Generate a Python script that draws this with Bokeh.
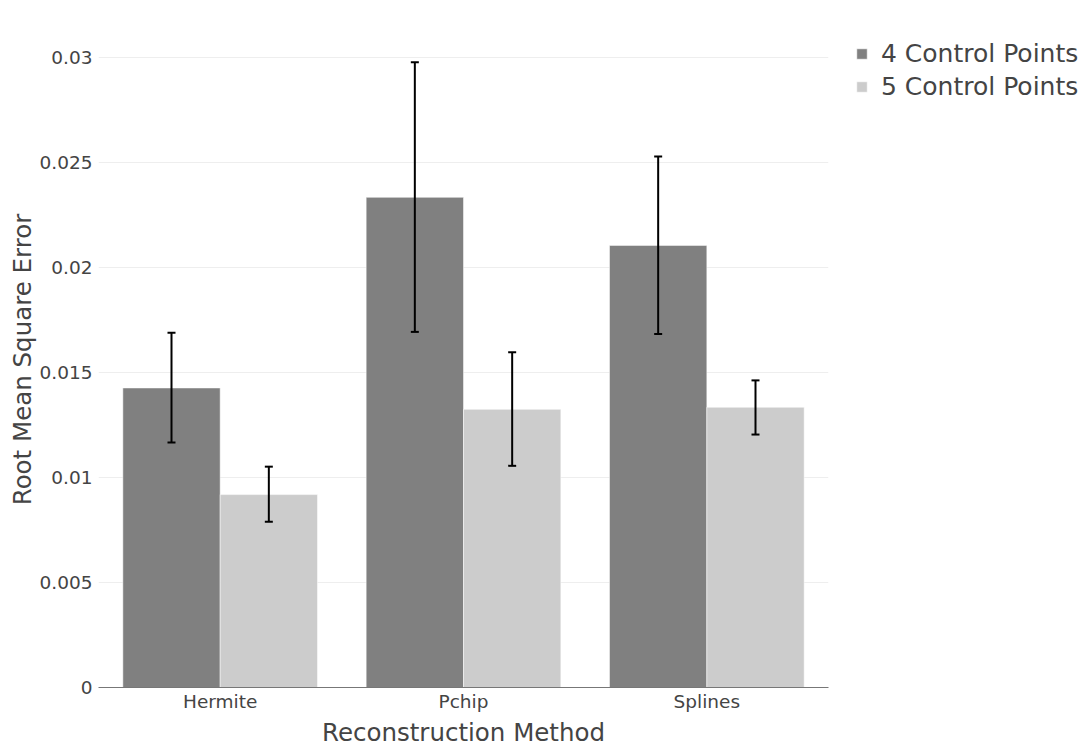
from bokeh.plotting import figure
from bokeh.models import (ColumnDataSource, FactorRange, Range1d, Whisker, TeeHead,
                          Legend, LegendItem, FixedTicker, CustomJSTickFormatter)
from bokeh.transform import dodge
from bokeh.embed import file_html
from bokeh.resources import INLINE

methods = ["Hermite", "Pchip", "Splines"]
series_names = ["4 Control Points", "5 Control Points"]
rmse_4 = [0.01427, 0.02335, 0.02106]
upper_4 = [0.01690, 0.02978, 0.02530]
lower_4 = [0.01167, 0.01694, 0.01684]
rmse_5 = [0.00919, 0.01325, 0.01335]
upper_5 = [0.01052, 0.01597, 0.01463]
lower_5 = [0.00789, 0.01056, 0.01205]
y_ticks = [0, 0.005, 0.01, 0.015, 0.02, 0.025, 0.03]

FONT = "DejaVu Sans"
TXT = "#444444"

src4 = ColumnDataSource(dict(m=methods, v=rmse_4, up=upper_4, lo=lower_4))
src5 = ColumnDataSource(dict(m=methods, v=rmse_5, up=upper_5, lo=lower_5))

p = figure(frame_width=730, frame_height=656, x_range=FactorRange(*methods, range_padding=0),
           y_range=Range1d(0, 0.03125), output_backend="svg", toolbar_location=None,
           min_border_left=80, min_border_right=0, min_border_top=31, min_border_bottom=0,
           margin=(0, 0, 0, 4))
p.outline_line_color = None

r4 = p.vbar(x=dodge("m", -0.2, range=p.x_range), top="v", width=0.4, source=src4,
            fill_color="#808080", line_color="#ffffff", line_width=0.5)
r5 = p.vbar(x=dodge("m", 0.2, range=p.x_range), top="v", width=0.4, source=src5,
            fill_color="#cccccc", line_color="#ffffff", line_width=0.5)

for src, off in ((src4, -0.2), (src5, 0.2)):
    w = Whisker(source=src, base=dodge("m", off, range=p.x_range), upper="up", lower="lo",
                line_color="black", line_width=2, level="annotation",
                upper_head=TeeHead(size=8, line_width=2, line_color="black"),
                lower_head=TeeHead(size=8, line_width=2, line_color="black"))
    p.add_layout(w)

p.xgrid.grid_line_color = None
p.ygrid.grid_line_color = "#eeeeee"
p.ygrid.grid_line_width = 1

p.yaxis.ticker = FixedTicker(ticks=y_ticks)
p.yaxis.formatter = CustomJSTickFormatter(code="return String(+tick.toFixed(4));")
p.yaxis.axis_line_color = None
p.yaxis.major_tick_line_color = None
p.yaxis.minor_tick_line_color = None
p.yaxis.major_label_standoff = 0
p.yaxis.axis_label = "Root Mean Square Error"
p.yaxis.axis_label_standoff = 0

p.xaxis.axis_line_color = "#777777"
p.xaxis.major_tick_line_color = None
p.xaxis.minor_tick_line_color = None
p.xaxis.major_label_standoff = -3
p.xaxis.axis_label = "Reconstruction Method"
p.xaxis.axis_label_standoff = 3

for ax in (p.xaxis, p.yaxis):
    ax.major_label_text_font = FONT
    ax.major_label_text_font_size = "18.5px"
    ax.major_label_text_color = TXT
    ax.axis_label_text_font = FONT
    ax.axis_label_text_font_size = "24.5px"
    ax.axis_label_text_font_style = "normal"
    ax.axis_label_text_color = TXT

legend = Legend(items=[LegendItem(label=series_names[0], renderers=[r4]),
                       LegendItem(label=series_names[1], renderers=[r5])],
                location=(27, 586), margin=0, padding=0, spacing=4,
                glyph_width=13, glyph_height=13, label_standoff=13,
                label_text_font=FONT, label_text_font_size="25px", label_text_color=TXT,
                border_line_color=None, background_fill_alpha=0)
p.add_layout(legend, "right")

open("out.html", "w").write(file_html(p, INLINE))
